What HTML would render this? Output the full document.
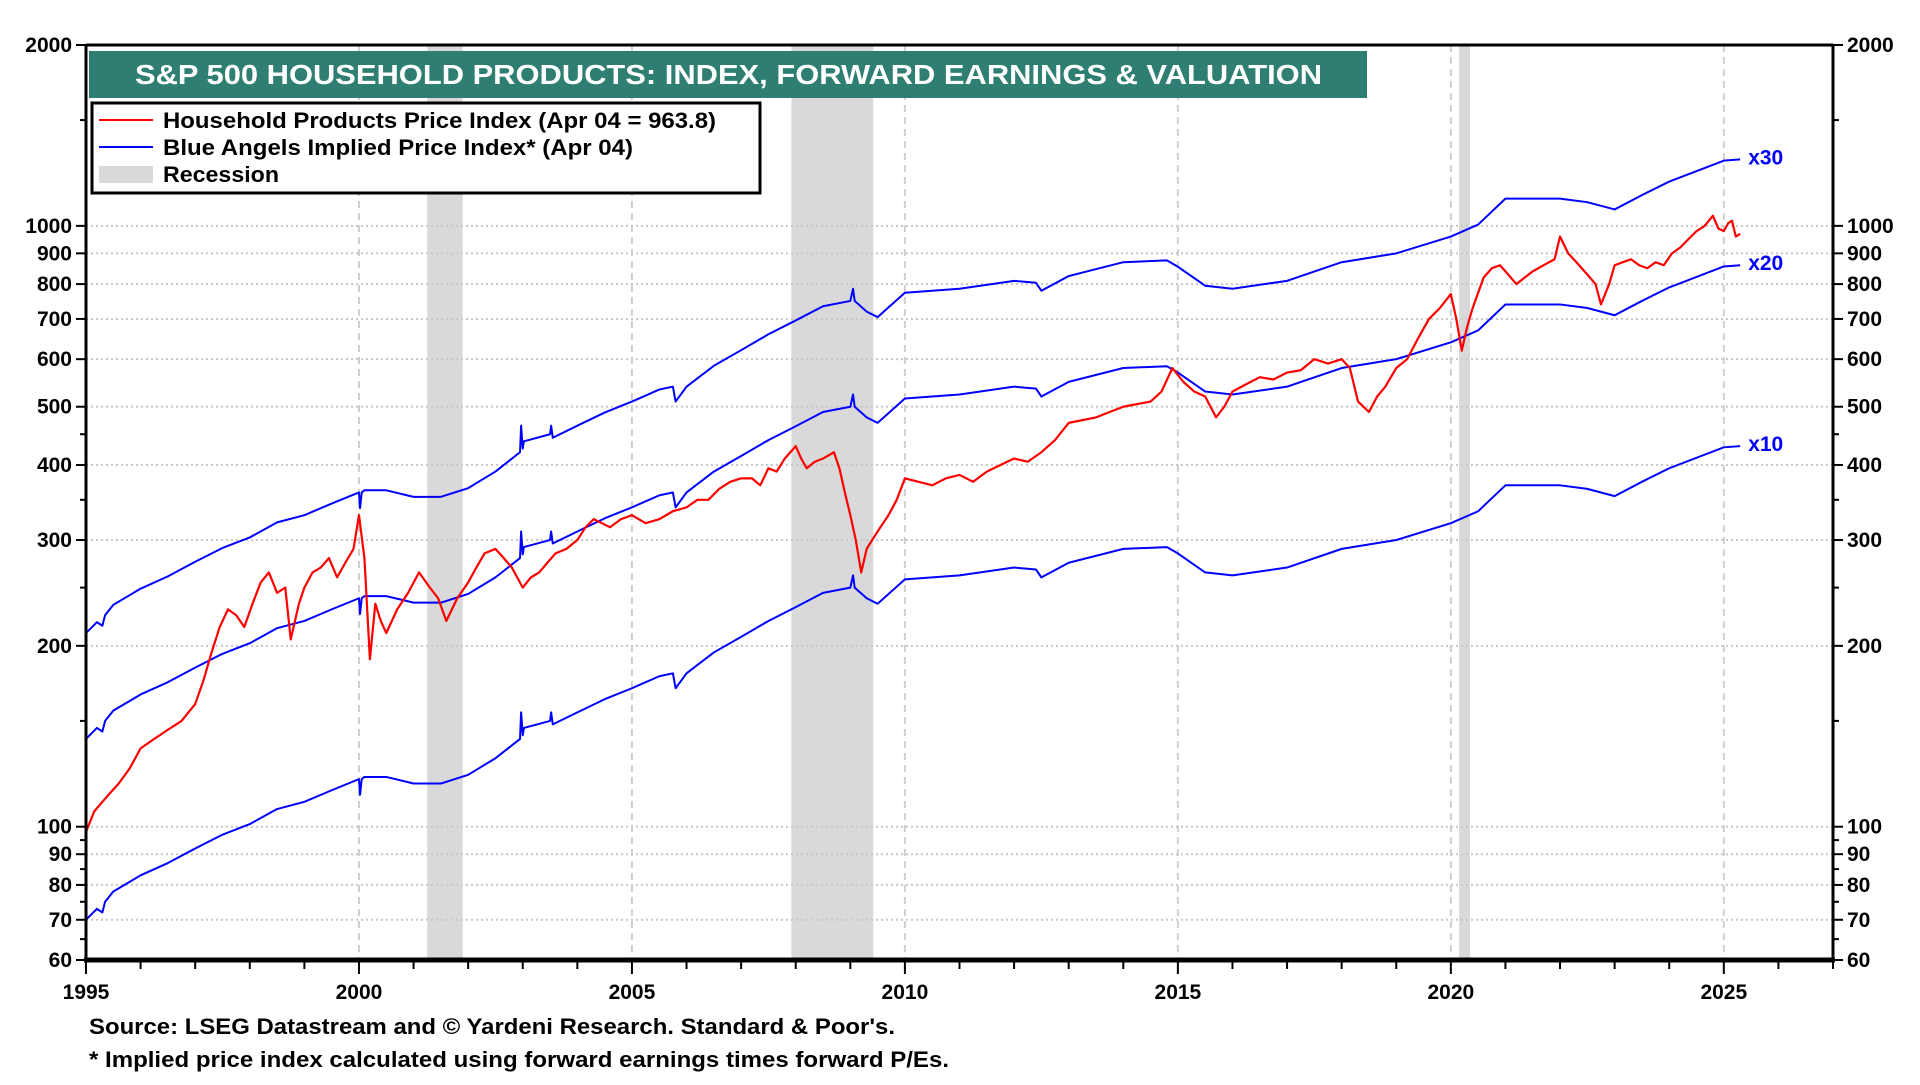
<!DOCTYPE html>
<html><head><meta charset="utf-8">
<style>
html,body{margin:0;padding:0;background:#fff;}
body{width:1920px;height:1080px;overflow:hidden;font-family:"Liberation Sans",sans-serif;}
svg text{font-family:"Liberation Sans",sans-serif;font-weight:bold;}
</style></head>
<body>
<svg id="chart" width="1920" height="1080" viewBox="0 0 1920 1080" xmlns="http://www.w3.org/2000/svg">
<defs><clipPath id="plotclip"><rect x="86" y="45" width="1747" height="915"/></clipPath></defs>
<g id="rec"></g>
<g id="grid"></g>
<g id="series" clip-path="url(#plotclip)"></g>
<g id="labels"></g>
<g id="axes"></g>
<rect x="89" y="51" width="1278" height="47" fill="#2e7f72"/>
<text x="135" y="84" font-size="28" fill="#fff" textLength="1187" lengthAdjust="spacingAndGlyphs">S&amp;P 500 HOUSEHOLD PRODUCTS: INDEX, FORWARD EARNINGS &amp; VALUATION</text>
<g>
<rect x="92" y="103" width="668" height="90" fill="#fff" stroke="#000" stroke-width="3"/>
<line x1="99" y1="120" x2="153" y2="120" stroke="#f00" stroke-width="2"/>
<text x="163" y="128" font-size="22" textLength="553" lengthAdjust="spacingAndGlyphs">Household Products Price Index (Apr 04 = 963.8)</text>
<line x1="99" y1="147" x2="153" y2="147" stroke="#00f" stroke-width="2"/>
<text x="163" y="155" font-size="22" textLength="470" lengthAdjust="spacingAndGlyphs">Blue Angels Implied Price Index* (Apr 04)</text>
<rect x="99" y="166" width="54" height="17" fill="#d9d9d9"/>
<text x="163" y="182" font-size="22" textLength="116" lengthAdjust="spacingAndGlyphs">Recession</text>
</g>
<text x="89" y="1034" font-size="22" textLength="806" lengthAdjust="spacingAndGlyphs">Source: LSEG Datastream and © Yardeni Research. Standard &amp; Poor's.</text>
<text x="89" y="1067" font-size="22" textLength="860" lengthAdjust="spacingAndGlyphs">* Implied price index calculated using forward earnings times forward P/Es.</text>
</svg>
<script>
const yTicks=[60,70,80,90,100,200,300,400,500,600,700,800,900,1000,2000];
const yLabels=["60","70","80","90","100","200","300","400","500","600","700","800","900","1000","2000"];
const xTicks=[1995,2000,2005,2010,2015,2020,2025];
const recStart=[2001.25,2007.92,2020.15];
const recEnd=[2001.9,2009.42,2020.35];
const multiples=[10,20,30];
const multLabels=["x10","x20","x30"];
const earnYears=[1995,1995.2,1995.3,1995.35,1995.5,1996,1996.5,1997,1997.5,1998,1998.5,1999,1999.5,2000,2000.02,2000.05,2000.1,2000.5,2001,2001.5,2002,2002.5,2002.95,2002.97,2003.0,2003.02,2003.5,2003.52,2003.55,2004,2004.5,2005,2005.5,2005.75,2005.8,2006,2006.5,2007,2007.5,2008,2008.5,2009,2009.05,2009.08,2009.3,2009.5,2010,2011,2012,2012.4,2012.5,2013,2014,2014.8,2015,2015.5,2016,2017,2018,2019,2020,2020.5,2021,2022,2022.5,2023,2023.5,2024,2025,2025.3];
const earnVals=[70,73,72,75,78,83,87,92,97,101,107,110,115,120,113,120,121,121,118,118,122,130,140,155,142,146,150,155,148,155,163,170,178,180,170,180,195,207,220,232,245,250,262,250,240,235,258,262,270,268,260,275,290,292,285,265,262,270,290,300,320,335,370,370,365,355,375,395,428,430];
const priceYears=[1995,1995.15,1995.3,1995.45,1995.6,1995.8,1996,1996.25,1996.5,1996.75,1997,1997.15,1997.3,1997.45,1997.6,1997.75,1997.9,1998.05,1998.2,1998.35,1998.5,1998.65,1998.75,1998.9,1999,1999.15,1999.3,1999.45,1999.6,1999.75,1999.9,2000,2000.1,2000.2,2000.3,2000.4,2000.5,2000.7,2000.9,2001.1,2001.3,2001.45,2001.6,2001.8,2002,2002.15,2002.3,2002.5,2002.65,2002.8,2003,2003.15,2003.3,2003.45,2003.6,2003.8,2004,2004.15,2004.3,2004.45,2004.6,2004.8,2005,2005.25,2005.5,2005.75,2006,2006.2,2006.4,2006.6,2006.8,2007,2007.2,2007.35,2007.5,2007.65,2007.8,2008,2008.1,2008.2,2008.35,2008.5,2008.7,2008.8,2008.9,2009.0,2009.1,2009.2,2009.3,2009.4,2009.55,2009.7,2009.85,2010,2010.25,2010.5,2010.75,2011,2011.25,2011.5,2011.75,2012,2012.25,2012.5,2012.75,2013,2013.25,2013.5,2013.75,2014,2014.25,2014.5,2014.7,2014.9,2015.1,2015.3,2015.5,2015.7,2015.85,2016,2016.25,2016.5,2016.75,2017,2017.25,2017.5,2017.75,2018,2018.15,2018.3,2018.5,2018.65,2018.8,2019,2019.2,2019.4,2019.6,2019.8,2020.0,2020.1,2020.2,2020.3,2020.4,2020.6,2020.75,2020.9,2021.05,2021.2,2021.35,2021.5,2021.7,2021.9,2022,2022.15,2022.3,2022.5,2022.65,2022.75,2022.9,2023,2023.15,2023.3,2023.45,2023.6,2023.75,2023.9,2024.05,2024.2,2024.35,2024.5,2024.65,2024.8,2024.9,2025,2025.08,2025.15,2025.22,2025.3];
const priceVals=[98,106,110,114,118,125,135,140,145,150,160,175,195,215,230,225,215,235,255,265,245,250,205,235,250,265,270,280,260,275,290,330,280,190,235,220,210,230,245,265,250,240,220,240,255,270,285,290,280,270,250,260,265,275,285,290,300,315,325,320,315,325,330,320,325,335,340,350,350,365,375,380,380,370,395,390,410,430,410,395,405,410,420,395,360,330,300,265,290,300,315,330,350,380,375,370,380,385,375,390,400,410,405,420,440,470,475,480,490,500,505,510,530,580,550,530,520,480,500,530,545,560,555,570,575,600,590,600,580,510,490,520,540,580,600,650,700,730,770,700,620,680,730,820,850,860,830,800,820,840,860,880,960,900,870,830,800,740,800,860,870,880,860,850,870,860,900,920,950,980,1000,1040,990,980,1010,1020,960,970];

const L=86,R=1833,T=45,B=960;
const NS="http://www.w3.org/2000/svg";
const X=yr=>L+(yr-1995)*(R-L)/(2027-1995);
const Y=v=>B-(Math.log(v/60)/Math.log(2000/60))*(B-T);
function mk(tag,attrs,parent){const e=document.createElementNS(NS,tag);for(const k in attrs)e.setAttribute(k,attrs[k]);parent.appendChild(e);return e;}
const rec=document.getElementById('rec'),grid=document.getElementById('grid'),ser=document.getElementById('series'),ax=document.getElementById('axes'),lab=document.getElementById('labels');

for(let i=0;i<recStart.length;i++){
 const r=mk('rect',{x:X(recStart[i]),y:T,width:X(recEnd[i])-X(recStart[i]),height:B-T,fill:'#d9d9d9'},rec);
 
 
}
yTicks.forEach((v,i)=>{
 if(v!==60&&v!==2000){const g=mk('line',{x1:L,x2:R,y1:Y(v),y2:Y(v),stroke:'#c8c8c8','stroke-width':2,'stroke-dasharray':'2,3'},grid);
 
 }
 const tl=mk('text',{x:L-14,y:Y(v)+7,'font-size':21,'text-anchor':'end'},ax);tl.textContent=yLabels[i];
 
 
 const tr=mk('text',{x:R+14,y:Y(v)+7,'font-size':21,'text-anchor':'start'},ax);tr.textContent=yLabels[i];
 
 
 mk('line',{x1:L-10,x2:L,y1:Y(v),y2:Y(v),stroke:'#000','stroke-width':2},ax);
 mk('line',{x1:R,x2:R+10,y1:Y(v),y2:Y(v),stroke:'#000','stroke-width':2},ax);
});
[65,75,85,95,150,250,350,450,1500].forEach(v=>{
 mk('line',{x1:L-6,x2:L,y1:Y(v),y2:Y(v),stroke:'#000','stroke-width':2},ax);
 mk('line',{x1:R,x2:R+6,y1:Y(v),y2:Y(v),stroke:'#000','stroke-width':2},ax);
});
xTicks.forEach(yr=>{
 if(yr>1995){const g=mk('line',{x1:X(yr),x2:X(yr),y1:T,y2:B,stroke:'#cfcfcf','stroke-width':2,'stroke-dasharray':'7,5'},grid);
 
 }
 const t=mk('text',{x:X(yr),y:B+39,'font-size':21,'text-anchor':'middle'},ax);t.textContent=String(yr);
 
 
});
for(let yr=1995;yr<=2027;yr++){mk('line',{x1:X(yr),x2:X(yr),y1:B,y2:B+(yr%5===0?14:9),stroke:'#000','stroke-width':2},ax);}
mk('line',{x1:L,x2:L,y1:T,y2:B,stroke:'#000','stroke-width':3},ax);
mk('line',{x1:R,x2:R,y1:T,y2:B,stroke:'#000','stroke-width':3},ax);
mk('line',{x1:L,x2:R,y1:T,y2:T,stroke:'#000','stroke-width':3},ax);
mk('line',{x1:L-2,x2:R+2,y1:B,y2:B,stroke:'#000','stroke-width':5},ax);

multiples.forEach((m,i)=>{
 const f=m/10;
 let d='';
 for(let j=0;j<earnYears.length;j++){
  d+=(j?'L':'M')+X(earnYears[j])+','+Y(earnVals[j]*f);
 }
 const p=mk('path',{d:d,fill:'none',stroke:'#0000ff','stroke-width':2,'stroke-linejoin':'round'},ser);
 
 
 const last=earnVals[earnVals.length-1]*f;
 const t=mk('text',{x:X(earnYears[earnYears.length-1])+8,y:Y(last)+5,'font-size':21,fill:'#0000ff'},lab);
 t.textContent=multLabels[i];
 
 
});
let pd='';
for(let j=0;j<priceYears.length;j++){pd+=(j?'L':'M')+X(priceYears[j])+','+Y(priceVals[j]);}
const pp=mk('path',{d:pd,fill:'none',stroke:'#ff0000','stroke-width':2.2,'stroke-linejoin':'round'},ser);


</script>
</body></html>
